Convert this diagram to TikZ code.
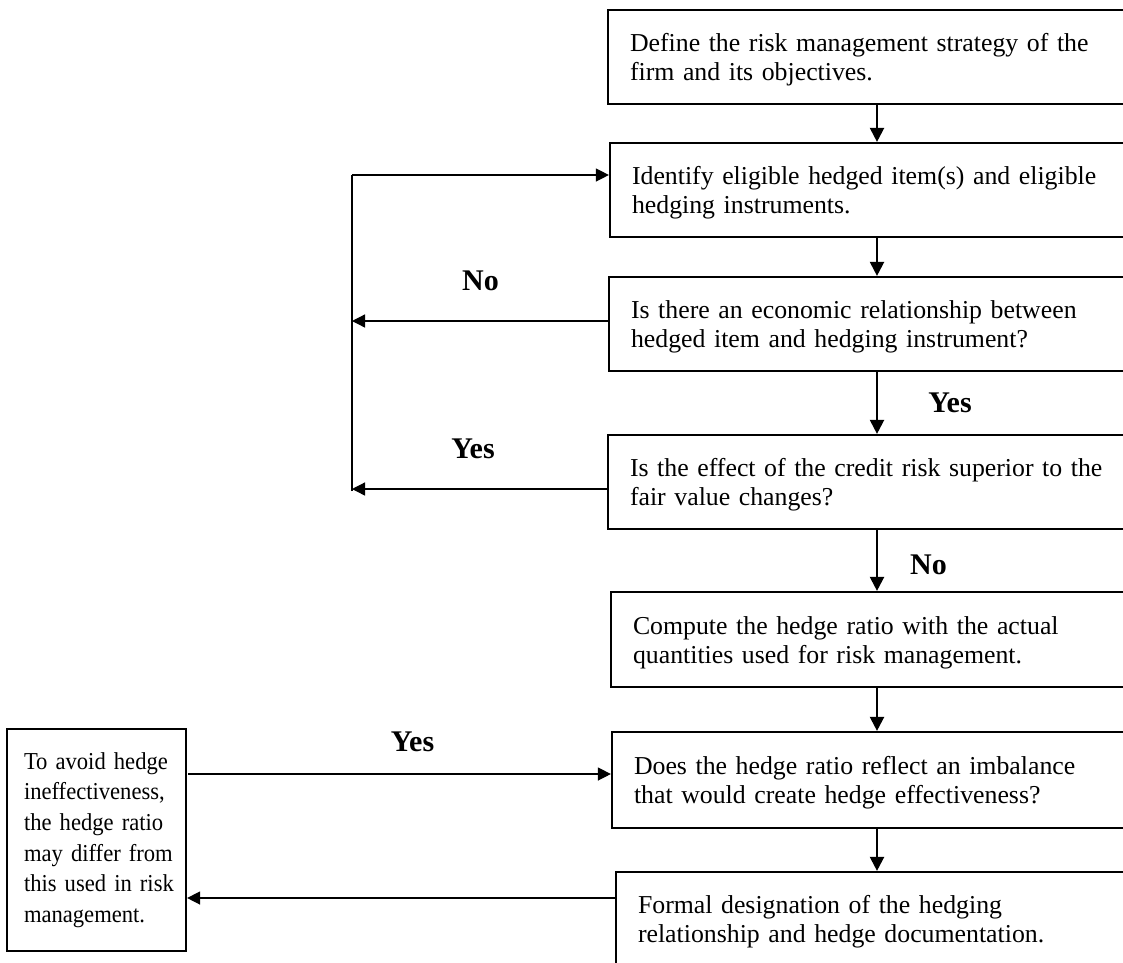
\documentclass[tikz,border=0pt]{standalone}
\usepackage{fontspec}
\setmainfont{Liberation Serif}
\newfontfamily\narrowserif[FakeStretch=0.93]{Liberation Serif}
\usetikzlibrary{arrows.meta,calc}
\newcommand{\topstrut}{\rule{0pt}{24pt}}
\begin{document}
\begin{tikzpicture}[x=1pt,y=-1pt,
  txt/.style={font=\fontsize{25.8}{29}\selectfont},
  box/.style={draw, line width=2.2pt, minimum height=94pt, inner xsep=22pt, inner ysep=0pt,
    align=left, anchor=center, txt},
  lbl/.style={font=\fontsize{30}{34}\selectfont\bfseries, inner sep=0pt, anchor=center},
  varr/.style={-{Triangle[length=14pt,width=14pt]}, line width=2.2pt},
  harr/.style={-{Triangle[length=13pt,width=13pt]}, line width=1.3pt},
  hline/.style={line width=1.3pt}
]
\useasboundingbox (0,0) rectangle (1123,962);
\clip (0,0) rectangle (1123,962);

\node[box, minimum width=538pt, text width=494pt] (b1) at (877,57)
  {\topstrut Define the risk management strategy of the\\firm and its objectives.};
\node[box, minimum width=534pt, text width=490pt] (b2) at (877,190)
  {\topstrut Identify eligible hedged item(s) and eligible\\hedging instruments.};
\node[box, minimum width=536pt, text width=492pt] (b3) at (877,324)
  {\topstrut Is there an economic relationship between\\hedged item and hedging instrument?};
\node[box, minimum width=538pt, text width=494pt] (b4) at (877,482)
  {\topstrut Is the effect of the credit risk superior to the\\fair value changes?};
\node[box, minimum width=532pt, minimum height=95pt, text width=488pt] (b5) at (877,639.5)
  {\topstrut Compute the hedge ratio with the actual\\quantities used for risk management.};
\node[box, minimum width=530pt, minimum height=96pt, text width=486pt] (b6) at (877,780)
  {\topstrut Does the hedge ratio reflect an imbalance\\that would create hedge effectiveness?};
\node[box, minimum width=522pt, text width=478pt] (b7) at (877,919)
  {\topstrut Formal designation of the hedging\\relationship and hedge documentation.};

\node[draw, line width=2.2pt, minimum width=179pt, minimum height=222pt, inner xsep=17pt,
  inner ysep=0pt, text width=145pt, align=left,
  font=\narrowserif\fontsize{24.3}{30.7}\selectfont] (L) at (96.5,840)
  {\makebox[145pt][s]{To avoid hedge}\\
   ineffectiveness,\\
   \makebox[145pt][s]{the hedge ratio}\\
   \makebox[145pt][s]{may differ from}\\
   \makebox[145pt][s]{this used in risk}\\
   management.};

% main flow
\draw[varr] (b1.south) -- (b2.north);
\draw[varr] (b2.south) -- (b3.north);
\draw[varr] (b3.south) -- (b4.north);
\draw[varr] (b4.south) -- (b5.north);
\draw[varr] (b5.south) -- (b6.north);
\draw[varr] (b6.south) -- (b7.north);

% feedback loop
\coordinate (lt) at (352,175);
\coordinate (lb) at (352,491);
\coordinate (noj) at (352,321);
\coordinate (yesj) at (352,489);
\draw[hline] (lb) -- (lt);
\draw[harr] (lt) -- (lt -| b2.west);
\draw[harr] (noj -| b3.west) -- (noj);
\draw[harr] (yesj -| b4.west) -- (yesj);

% left box connectors
\coordinate (yl) at (188,774);
\coordinate (fl) at (188,898);
\draw[harr] (yl) -- (yl -| b6.west);
\draw[harr] (fl -| b7.west) -- (fl -| L.east);

% labels
\node[lbl] (lno1) at (480.5,281) {No};
\node[lbl] (lyes1) at (473,449) {Yes};
\node[lbl] (lyes2) at (950,402.5) {Yes};
\node[lbl] (lno2) at (928.5,565) {No};
\node[lbl] (lyes3) at (412.5,742) {Yes};
\end{tikzpicture}
\end{document}
